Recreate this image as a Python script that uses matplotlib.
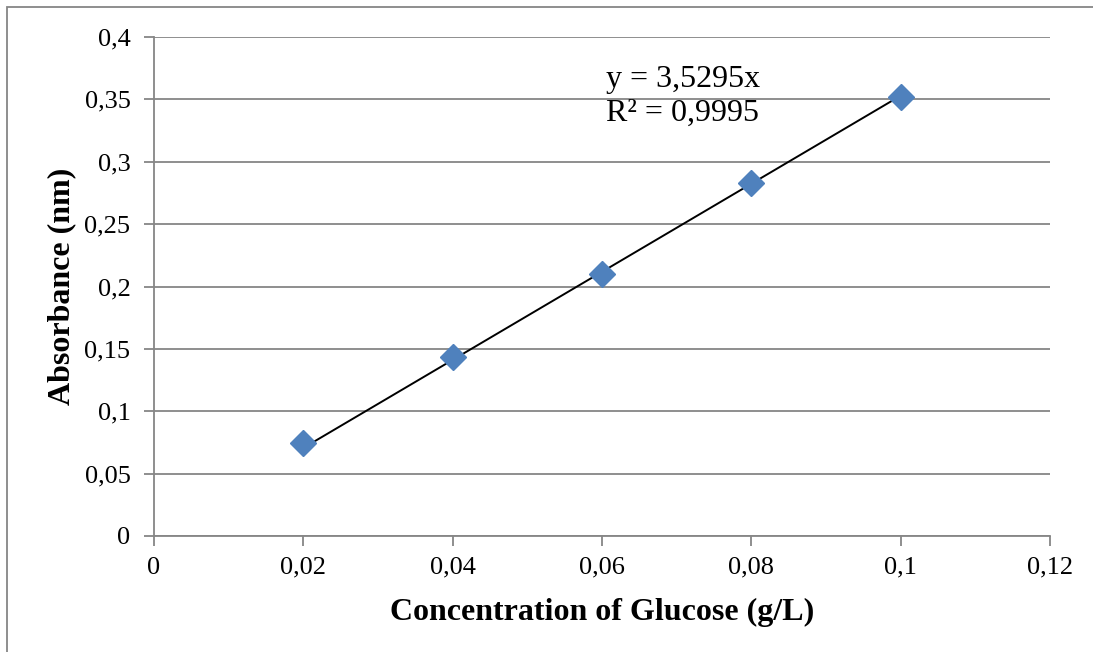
import matplotlib
matplotlib.use("Agg")
import matplotlib.pyplot as plt
from matplotlib.patches import Rectangle
from matplotlib.ticker import FixedLocator, FuncFormatter
import numpy as np

# Glucose calibration data
concentration = [0.02, 0.04, 0.06, 0.08, 0.10]
absorbance = [0.0745, 0.1435, 0.210, 0.283, 0.352]
slope = 3.5295
r_squared = 0.9995

x_ticks = [0, 0.02, 0.04, 0.06, 0.08, 0.1, 0.12]
y_ticks = [0, 0.05, 0.1, 0.15, 0.2, 0.25, 0.3, 0.35, 0.4]

plt.rcParams['font.family'] = ['Liberation Serif', 'DejaVu Serif']

W, H = 1093, 652
fig = plt.figure(figsize=(W / 100, H / 100), dpi=100)
ax = fig.add_axes([154 / W, 1 - 536 / H, (1050 - 154) / W, (536 - 37) / H])

grid_col = '#868686'

# outer chart border
fig.patches.append(Rectangle((7 / W, -0.05), 1.2, 1 - 7 / H + 0.05,
                             transform=fig.transFigure, fill=False,
                             edgecolor=grid_col, linewidth=1.3))

# data points and linear fit through origin
xs = np.array(concentration)
ax.plot([xs.min(), xs.max()], [slope * xs.min(), slope * xs.max()],
        color='black', linewidth=1.4, zorder=3)
ax.plot(concentration, absorbance, linestyle='none', marker='D',
        markersize=13, color='#4F81BD', markeredgecolor='#4F81BD', zorder=4)

ax.set_xlim(0, 0.12)
ax.set_ylim(0, 0.4)

def comma(v, pos=None):
    s = ('%.2f' % v).rstrip('0').rstrip('.')
    return s.replace('.', ',')

ax.xaxis.set_major_locator(FixedLocator(x_ticks))
ax.yaxis.set_major_locator(FixedLocator(y_ticks))
ax.xaxis.set_major_formatter(FuncFormatter(comma))
ax.yaxis.set_major_formatter(FuncFormatter(comma))

ax.grid(axis='y', color=grid_col, linewidth=1.3)
ax.set_axisbelow(True)
for s in ['top', 'right']:
    ax.spines[s].set_visible(False)
for s in ['left', 'bottom']:
    ax.spines[s].set_color(grid_col)
    ax.spines[s].set_linewidth(1.3)

ax.tick_params(axis='both', direction='out', length=7, width=1.3,
               color=grid_col, labelsize=19, labelcolor='black')
ax.tick_params(axis='x', pad=8)
ax.tick_params(axis='y', pad=10)

ax.set_xlabel('Concentration of Glucose (g/L)', fontsize=23,
              fontweight='bold', labelpad=14)
ax.set_ylabel('Absorbance (nm)', fontsize=23, fontweight='bold', labelpad=6)

ax.text(0.0606, 0.3525, 'y = 3,5295x\nR² = 0,9995', fontsize=23,
        va='center', ha='left', linespacing=1.25)

fig.savefig('out.png', dpi=100)
